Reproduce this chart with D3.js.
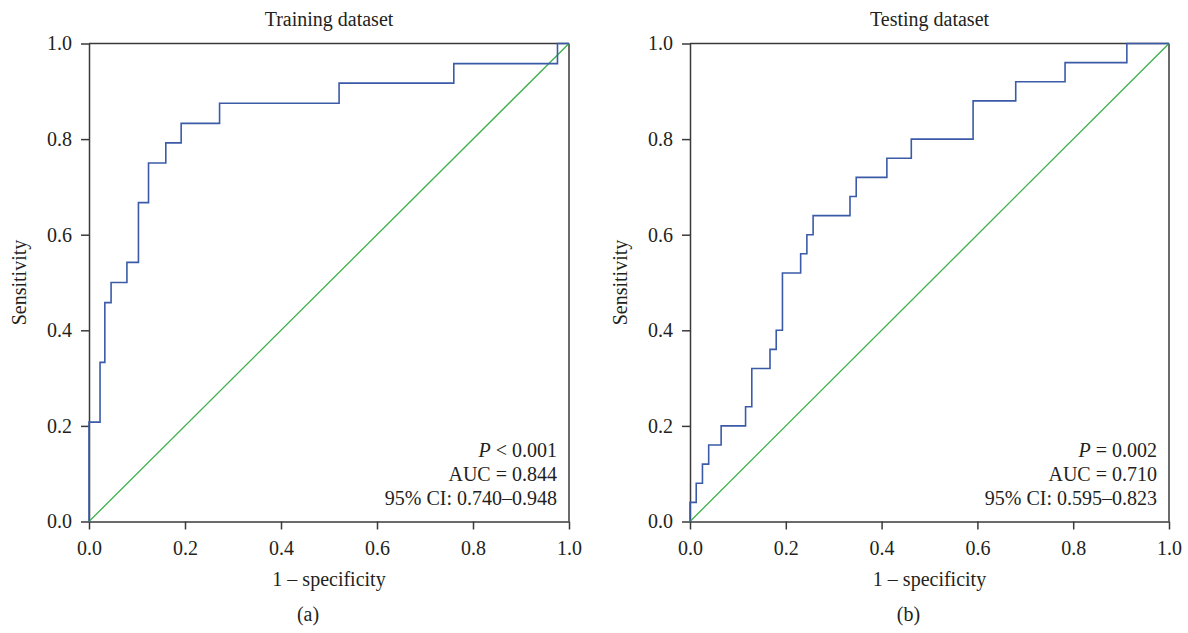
<!DOCTYPE html>
<html>
<head>
<meta charset="utf-8">
<script src="https://cdn.jsdelivr.net/npm/d3@7"></script>
<style>
  html, body { margin: 0; padding: 0; background: #fff; }
  svg { display: block; }
  text { font-family: "Liberation Serif", "Times New Roman", serif; fill: #231f20; }
</style>
</head>
<body>
<svg id="chart" width="1188" height="633"></svg>
<script>
// ---- data ----
const trainFPR = [0, 0, 0.023, 0.033, 0.046, 0.079, 0.103, 0.124, 0.160, 0.192, 0.272, 0.521, 0.760, 0.976, 1.0];
const trainTPR = [0, 0.208, 0.333, 0.458, 0.500, 0.542, 0.667, 0.750, 0.792, 0.833, 0.875, 0.917, 0.958, 1.0, 1.0];
const testFPR = [0, 0, 0.013, 0.026, 0.039, 0.065, 0.116, 0.129, 0.167, 0.180, 0.193, 0.231, 0.244, 0.257, 0.334, 0.347, 0.411, 0.462, 0.591, 0.680, 0.783, 0.912, 1.0];
const testTPR = [0, 0.04, 0.08, 0.12, 0.16, 0.20, 0.24, 0.32, 0.36, 0.40, 0.52, 0.56, 0.60, 0.64, 0.68, 0.72, 0.76, 0.80, 0.88, 0.92, 0.96, 1.0, 1.0];
const tickValues = [0, 0.2, 0.4, 0.6, 0.8, 1.0];
const titles = ["Training dataset", "Testing dataset"];
const panelLabels = ["(a)", "(b)"];
const pLabels = [["<", "0.001"], ["=", "0.002"]];
const aucLabels = ["AUC = 0.844", "AUC = 0.710"];
const ciLabels = ["95% CI: 0.740\u20130.948", "95% CI: 0.595\u20130.823"];
const xLabel = "1 \u2013 specificity";
const yLabel = "Sensitivity";

const svg = d3.select("#chart");
const panels = [
  { x0: 89, x1: 569, fpr: trainFPR, tpr: trainTPR },
  { x0: 690, x1: 1169, fpr: testFPR, tpr: testTPR }
];
const yTop = 43.5, yBot = 521.5;
const axisColor = "#3a3a3a";
const fs = 20;

panels.forEach((p, i) => {
  const x = d3.scaleLinear().domain([0, 1]).range([p.x0, p.x1]);
  const y = d3.scaleLinear().domain([0, 1]).range([yBot, yTop]);
  const g = svg.append("g");
  const cx = (p.x0 + p.x1) / 2;

  // box top & right
  g.append("line").attr("x1", x(0)).attr("x2", x(1)).attr("y1", y(1)).attr("y2", y(1))
    .attr("stroke", axisColor).attr("stroke-width", 1.5);
  g.append("line").attr("x1", x(1)).attr("x2", x(1)).attr("y1", y(0)).attr("y2", y(1))
    .attr("stroke", axisColor).attr("stroke-width", 1.5);

  // axes
  const xa = g.append("g").attr("transform", `translate(0,${yBot})`)
    .call(d3.axisBottom(x).tickValues(tickValues).tickFormat(d3.format(".1f")).tickSize(8).tickSizeOuter(0));
  const ya = g.append("g").attr("transform", `translate(${p.x0},0)`)
    .call(d3.axisLeft(y).tickValues(tickValues).tickFormat(d3.format(".1f")).tickSize(8).tickSizeOuter(0));
  [xa, ya].forEach(a => {
    a.select(".domain").attr("stroke", axisColor).attr("stroke-width", 1.5);
    a.selectAll(".tick line").attr("stroke", axisColor).attr("stroke-width", 1.5);
    a.selectAll(".tick text").style("font-family", '"Liberation Serif", serif')
      .style("font-size", fs + "px").attr("fill", "#231f20");
  });
  xa.selectAll(".tick text").attr("y", 19);
  ya.selectAll(".tick text").attr("x", -17);

  // diagonal
  g.append("line").attr("x1", x(0)).attr("y1", y(0)).attr("x2", x(1)).attr("y2", y(1))
    .attr("stroke", "#3cb04a").attr("stroke-width", 1.3);

  // ROC curve
  const pts = p.fpr.map((f, k) => [f, p.tpr[k]]);
  const line = d3.line().x(d => x(d[0])).y(d => y(d[1])).curve(d3.curveStepAfter);
  g.append("path").attr("d", line(pts)).attr("fill", "none")
    .attr("stroke", "#3b5ba8").attr("stroke-width", 1.6);

  // titles and labels
  g.append("text").attr("x", cx).attr("y", 26).attr("text-anchor", "middle")
    .style("font-size", fs + "px").text(titles[i]);
  g.append("text").attr("x", cx).attr("y", 586).attr("text-anchor", "middle")
    .style("font-size", fs + "px").text(xLabel);
  g.append("text").attr("x", cx - 21).attr("y", 621).attr("text-anchor", "middle")
    .style("font-size", fs + "px").text(panelLabels[i]);
  g.append("text").attr("transform", `translate(${p.x0 - 63},${(yTop + yBot) / 2}) rotate(-90)`)
    .attr("text-anchor", "middle").style("font-size", fs + "px").text(yLabel);

  // annotations
  const ax = x(1) - 12;
  const t1 = g.append("text").attr("x", ax).attr("y", 457).attr("text-anchor", "end")
    .style("font-size", fs + "px");
  t1.append("tspan").style("font-style", "italic").text("P");
  t1.append("tspan").text(" " + pLabels[i][0] + " " + pLabels[i][1]);
  g.append("text").attr("x", ax).attr("y", 481).attr("text-anchor", "end")
    .style("font-size", fs + "px").text(aucLabels[i]);
  g.append("text").attr("x", ax).attr("y", 505).attr("text-anchor", "end")
    .style("font-size", fs + "px").text(ciLabels[i]);
});
</script>
</body>
</html>
